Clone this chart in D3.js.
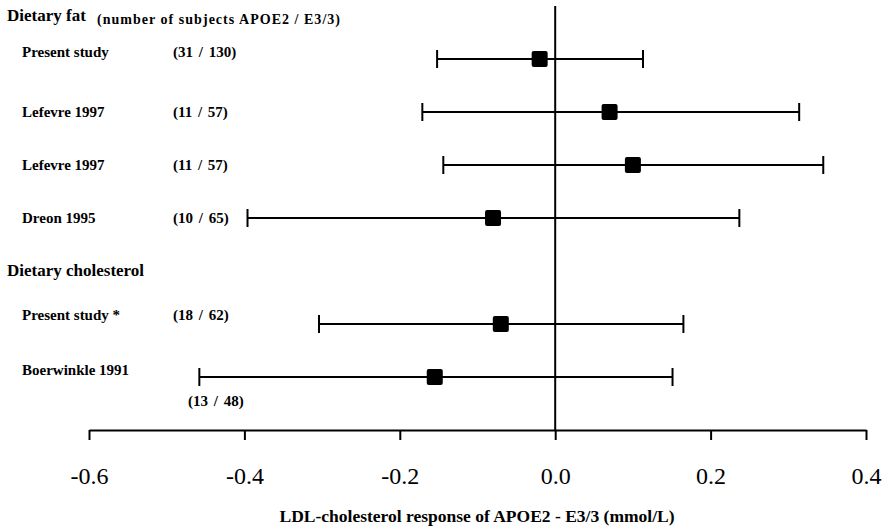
<!DOCTYPE html>
<html>
<head>
<meta charset="utf-8">
<script src="https://cdn.jsdelivr.net/npm/d3@7"></script>
<style>
  body { margin: 0; background: white; }
  text { font-family: "Liberation Serif", "DejaVu Serif", serif; fill: black; }
</style>
</head>
<body>
<script>
// study rows, top to bottom
const studies = ['Present study', 'Lefevre 1997', 'Lefevre 1997', 'Dreon 1995', 'Present study *', 'Boerwinkle 1991'];
const subjects = ['(31 / 130)', '(11 / 57)', '(11 / 57)', '(10 / 65)', '(18 / 62)', '(13 / 48)'];
const estimate = [-0.02, 0.07, 0.10, -0.08, -0.07, -0.155];
const lower = [-0.152, -0.171, -0.144, -0.396, -0.304, -0.458];
const upper = [0.113, 0.314, 0.345, 0.237, 0.165, 0.151];
const xTicks = [-0.6, -0.4, -0.2, 0.0, 0.2, 0.4];

const width = 886;
const height = 532;

// rows sit in slots, slot 4 holds the "Dietary cholesterol" heading
const slots = [0, 1, 2, 3, 5, 6];
const labelShift = [7, 0, 0, 0, 9, 7];

const x = d3.scaleLinear().domain([-0.6, 0.4]).range([89, 866]);
const y = d3.scaleLinear().domain([0, 6]).range([59, 377]);

const svg = d3.select('body').append('svg')
  .attr('width', width)
  .attr('height', height);

const rows = studies.map((s, i) => ({
  study: s, n: subjects[i], est: estimate[i], lo: lower[i], hi: upper[i],
  y: y(slots[i]), shift: labelShift[i]
}));

// headings
svg.append('text')
  .attr('x', 7).attr('y', 21)
  .style('font-size', '17px').style('font-weight', 'bold')
  .text('Dietary fat');
svg.append('text')
  .attr('x', 97).attr('y', 24)
  .style('font-size', '14px').style('font-weight', 'bold')
  .attr('textLength', 243)
  .text('(number of subjects APOE2 / E3/3)');
svg.append('text')
  .attr('x', 7).attr('y', y(4) + 5)
  .style('font-size', '17px').style('font-weight', 'bold')
  .text('Dietary cholesterol');

// zero line
svg.append('line')
  .attr('x1', x(0)).attr('x2', x(0))
  .attr('y1', 6).attr('y2', 430)
  .attr('stroke', 'black').attr('stroke-width', 2);

// row labels
svg.append('g').selectAll('text')
  .data(rows)
  .join('text')
    .attr('x', 22)
    .attr('y', d => d.y + 5 - d.shift)
    .style('font-size', '15px').style('font-weight', 'bold')
    .text(d => d.study);

svg.append('g').selectAll('text')
  .data(rows)
  .join('text')
    .attr('x', (d, i) => i === rows.length - 1 ? 188 : 173)
    .attr('y', (d, i) => i === rows.length - 1 ? d.y + 29 : d.y + 5 - d.shift)
    .style('font-size', '15px').style('font-weight', 'bold')
    .style('word-spacing', '2px')
    .text(d => d.n);

// intervals
const ci = svg.append('g')
  .attr('stroke', 'black')
  .attr('stroke-width', 2);

ci.selectAll('.ci')
  .data(rows)
  .join('line')
    .attr('x1', d => x(d.lo)).attr('x2', d => x(d.hi))
    .attr('y1', d => d.y).attr('y2', d => d.y);

ci.selectAll('.lo')
  .data(rows)
  .join('line')
    .attr('x1', d => x(d.lo)).attr('x2', d => x(d.lo))
    .attr('y1', d => d.y - 9).attr('y2', d => d.y + 9);

ci.selectAll('.hi')
  .data(rows)
  .join('line')
    .attr('x1', d => x(d.hi)).attr('x2', d => x(d.hi))
    .attr('y1', d => d.y - 9).attr('y2', d => d.y + 9);

svg.append('g').selectAll('rect')
  .data(rows)
  .join('rect')
    .attr('x', d => x(d.est) - 8)
    .attr('y', d => d.y - 8)
    .attr('width', 16).attr('height', 16)
    .attr('rx', 2)
    .attr('fill', 'black');

// x axis
const axis = svg.append('g')
  .attr('transform', 'translate(0,430)')
  .attr('font-family', null)
  .call(d3.axisBottom(x).tickValues(xTicks).tickFormat(d3.format('.1f')).tickSizeInner(10).tickSizeOuter(0).tickPadding(20));

axis.attr('font-family', '"Liberation Serif", "DejaVu Serif", serif');
axis.select('.domain').attr('stroke-width', 2);
axis.selectAll('.tick line').attr('stroke-width', 2);
axis.selectAll('.tick text')
  .style('font-family', '"Liberation Serif", "DejaVu Serif", serif')
  .style('font-size', '24px')
  .attr('dy', null)
  .attr('y', 54)
  .text(d => d3.format('.1f')(d).replace('−', '-'));

svg.append('text')
  .attr('x', 477).attr('y', 522)
  .attr('text-anchor', 'middle')
  .style('font-size', '17.5px').style('font-weight', 'bold')
  .text('LDL-cholesterol response of APOE2 - E3/3 (mmol/L)');
</script>
</body>
</html>
